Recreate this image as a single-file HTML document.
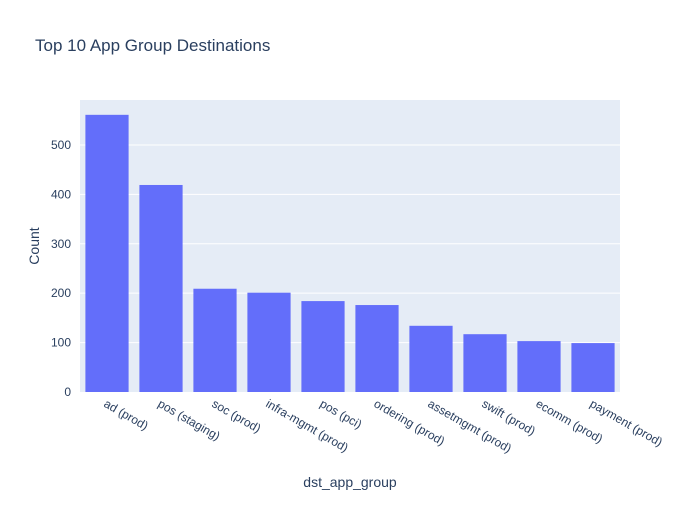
<!DOCTYPE html>
<html><head><meta charset="utf-8"><style>
body{margin:0;background:#fff;font-family:"Liberation Sans",Arial,sans-serif}
svg text{font-family:"Liberation Sans",Arial,sans-serif;fill:#2a3f5f}
</style></head><body>
<svg id="chart" width="700" height="500">
<rect x="0" y="0" width="700" height="500" fill="#fff"/>
<text x="35" y="51" font-size="17">Top 10 App Group Destinations</text>
<rect x="80" y="100" width="540" height="292" fill="#e5ecf6"/>
<g id="grid"></g><g id="bars"></g><g id="xt"></g><g id="yt"></g>
<text x="39" y="246" font-size="14" text-anchor="middle" transform="rotate(-90 39 246)">Count</text>
<text x="350" y="487" font-size="14" text-anchor="middle">dst_app_group</text>
</svg>
<script>
const categories=["ad (prod)","pos (staging)","soc (prod)","infra-mgmt (prod)","pos (pci)","ordering (prod)","assetmgmt (prod)","swift (prod)","ecomm (prod)","payment (prod)"];
const values=[561,419,209,201,184,176,134,117,103,99];
const yTicks=[0,100,200,300,400,500];
const X0=80,W=540,Y0=392,H=292,YMAX=591;
const ns="http://www.w3.org/2000/svg";
const y=v=>Y0-v/YMAX*H;
const band=W/categories.length;
const xc=i=>X0+band*(i+0.5);
function mk(t,a,p){const e=document.createElementNS(ns,t);for(const k in a)e.setAttribute(k,a[k]);p.appendChild(e);return e;}
const grid=document.getElementById('grid'),yt=document.getElementById('yt'),bars=document.getElementById('bars'),xt=document.getElementById('xt');
yTicks.forEach(v=>{
 if(v>0){const g=mk('line',{x1:X0,x2:X0+W,y1:y(v),y2:y(v),stroke:'#fff','stroke-width':1},grid);
 
 }
 const t=mk('text',{x:X0-9,y:y(v)+4,'font-size':12,'text-anchor':'end'},yt);t.textContent=v;
 
 
});
categories.forEach((c,i)=>{
 const bw=band*0.8;
 const r=mk('rect',{x:xc(i)-bw/2,y:y(values[i]),width:bw,height:Y0-y(values[i]),fill:'#636efa'},bars);
 
 
 const ty=Y0+14;
 const t=mk('text',{x:xc(i)-4,y:ty,'font-size':12,transform:`rotate(30 ${xc(i)-4} ${ty})`},xt);t.textContent=c;
 
 
});
</script>
</body></html>
